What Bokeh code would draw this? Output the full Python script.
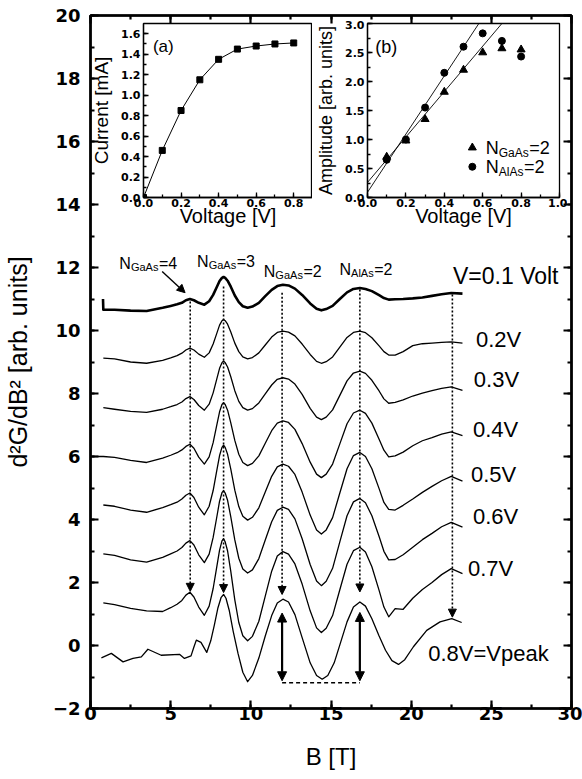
from bokeh.plotting import figure
from bokeh.models import (ColumnDataSource, Arrow, NormalHead, LinearAxis,
                          SingleIntervalTicker, Range1d, PrintfTickFormatter,
                          CustomJSTickFormatter)
from bokeh.layouts import column, row
from bokeh.core.properties import value
from bokeh.embed import file_html
from bokeh.resources import INLINE

FONT = "Liberation Sans"
TICK_FONT = "DejaVu Sans"

# ---------------- main panel data ----------------
B_GRID = [0.8, 1.5, 2.5, 3.5, 4.5, 5.0, 5.4, 5.7, 5.95, 6.2, 6.45, 6.75, 7.1, 7.4, 7.65,
          7.85, 8.05, 8.2, 8.3, 8.4, 8.55, 8.75, 9.0, 9.25, 9.5, 9.8, 10.1, 10.5, 10.9,
          11.3, 11.65, 12.0, 12.35, 12.75, 13.2, 13.7, 14.1, 14.4, 14.7, 15.1, 15.55,
          16.0, 16.4, 16.8, 17.15, 17.55, 18.0, 18.3, 18.6, 19.0, 19.5, 20.1, 20.7, 21.3,
          21.9, 22.5, 23.2]

V01 = [10.66, 10.66, 10.63, 10.62, 10.72, 10.78, 10.83, 10.88, 10.96, 11.0, 10.96, 10.88,
       10.82, 10.93, 11.13, 11.35, 11.57, 11.67, 11.7, 11.67, 11.58, 11.39, 11.11, 10.9,
       10.77, 10.72, 10.76, 10.88, 11.09, 11.29, 11.41, 11.45, 11.43, 11.33, 11.13, 10.86,
       10.69, 10.64, 10.68, 10.78, 11.0, 11.21, 11.32, 11.35, 11.32, 11.25, 11.12, 11.03,
       10.98, 10.99, 11.0, 11.02, 11.05, 11.1, 11.15, 11.19, 11.17]
V02 = [9.12, 9.1, 9.0, 8.96, 9.05, 9.13, 9.2, 9.28, 9.38, 9.44, 9.38, 9.25, 9.15, 9.29,
       9.57, 9.87, 10.17, 10.31, 10.35, 10.31, 10.2, 9.95, 9.6, 9.33, 9.16, 9.1, 9.14,
       9.29, 9.54, 9.79, 9.94, 9.98, 9.95, 9.83, 9.57, 9.24, 9.02, 8.96, 9.01, 9.16, 9.47,
       9.78, 9.94, 9.98, 9.93, 9.77, 9.51, 9.33, 9.22, 9.22, 9.33, 9.52, 9.58, 9.6, 9.62,
       9.64, 9.6]
V03 = [7.55, 7.5, 7.43, 7.4, 7.5, 7.58, 7.65, 7.73, 7.84, 7.9, 7.81, 7.62, 7.47, 7.66,
       8.02, 8.41, 8.8, 8.98, 9.03, 8.98, 8.84, 8.53, 8.09, 7.75, 7.55, 7.47, 7.52, 7.7,
       7.99, 8.27, 8.45, 8.5, 8.46, 8.3, 7.97, 7.53, 7.25, 7.17, 7.25, 7.48, 7.94, 8.4,
       8.65, 8.71, 8.64, 8.42, 8.08, 7.83, 7.69, 7.72, 7.8, 7.92, 8.01, 8.09, 8.16, 8.21,
       8.1]
V04 = [6.0, 5.97, 5.88, 5.81, 5.95, 6.04, 6.12, 6.21, 6.32, 6.39, 6.26, 5.98, 5.76, 5.99,
       6.44, 6.93, 7.42, 7.65, 7.71, 7.65, 7.47, 7.07, 6.51, 6.07, 5.81, 5.71, 5.78, 6.02,
       6.42, 6.82, 7.06, 7.13, 7.08, 6.86, 6.41, 5.82, 5.44, 5.33, 5.44, 5.76, 6.4, 7.04,
       7.38, 7.47, 7.37, 7.06, 6.55, 6.2, 5.99, 6.02, 6.14, 6.34, 6.5, 6.6, 6.71, 6.78,
       6.66]
V05 = [4.46, 4.42, 4.3, 4.23, 4.38, 4.47, 4.55, 4.65, 4.77, 4.84, 4.7, 4.39, 4.15, 4.42,
       4.92, 5.48, 6.03, 6.29, 6.36, 6.29, 6.07, 5.6, 4.93, 4.41, 4.1, 3.98, 4.07, 4.37,
       4.87, 5.37, 5.67, 5.76, 5.69, 5.43, 4.87, 4.14, 3.67, 3.54, 3.67, 4.06, 4.84, 5.61,
       6.03, 6.13, 6.0, 5.61, 4.98, 4.54, 4.32, 4.3, 4.45, 4.65, 4.86, 5.05, 5.23, 5.37,
       5.22]
V06 = [2.91, 2.86, 2.72, 2.65, 2.8, 2.91, 3.0, 3.11, 3.25, 3.33, 3.19, 2.88, 2.63, 2.9,
       3.43, 4.0, 4.58, 4.85, 4.92, 4.84, 4.61, 4.08, 3.35, 2.77, 2.43, 2.3, 2.4, 2.76,
       3.35, 3.93, 4.29, 4.39, 4.32, 4.02, 3.39, 2.57, 2.05, 1.9, 2.04, 2.45, 3.29, 4.12,
       4.56, 4.67, 4.53, 4.12, 3.46, 2.99, 2.72, 2.73, 2.88, 3.12, 3.36, 3.56, 3.77, 3.91,
       3.76]
V07 = [1.35, 1.3, 1.18, 1.1, 1.08, 1.2, 1.31, 1.43, 1.6, 1.69, 1.54, 1.22, 0.96, 1.25,
       1.81, 2.42, 3.03, 3.32, 3.39, 3.29, 3.0, 2.35, 1.45, 0.73, 0.31, 0.15, 0.29, 0.77,
       1.57, 2.36, 2.84, 2.98, 2.9, 2.59, 1.95, 1.1, 0.56, 0.41, 0.55, 0.95, 1.77, 2.58,
       3.01, 3.12, 2.97, 2.5, 1.75, 1.22, 0.91, 1.17, 1.15, 1.5, 1.78, 2.0, 2.25, 2.44,
       2.28]

# leading points where a trace starts differently (B, value)
LEAD_01 = (0.78, 11.0)
LEAD_04 = (0.1, 6.0)

B08 = [0.68, 1.3, 2.03, 2.65, 3.17, 3.58, 4.41, 5.55, 5.86, 6.27, 6.45, 6.6, 6.89, 7.25,
       7.5, 7.72, 7.95, 8.15, 8.3, 8.45, 8.65, 8.9, 9.2, 9.5, 9.8, 10.1, 10.5, 10.9, 11.3,
       11.65, 12.0, 12.35, 12.75, 13.2, 13.7, 14.1, 14.45, 14.8, 15.2, 15.6, 16.0, 16.4,
       16.8, 17.15, 17.55, 18.0, 18.4, 18.8, 19.21, 19.6, 20.14, 20.97, 21.8, 22.53, 23.15]
V08 = [-0.39, -0.25, -0.52, -0.41, -0.36, -0.12, -0.31, -0.28, -0.41, -0.33, -0.05, 0.17,
       0.1, -0.22, 0.15, 0.64, 1.2, 1.53, 1.62, 1.5, 1.12, 0.45, -0.25, -0.85, -1.15,
       -0.95, -0.4, 0.3, 0.95, 1.35, 1.47, 1.38, 0.98, 0.25, -0.55, -0.95, -1.07, -0.95,
       -0.55, 0.1, 0.75, 1.22, 1.38, 1.25, 0.85, 0.3, -0.15, -0.48, -0.6, -0.45, -0.04,
       0.48, 0.75, 0.85, 0.73]

V_LABELS = ["V=0.1 Volt", "0.2V", "0.3V", "0.4V", "0.5V", "0.6V", "0.7V", "0.8V=Vpeak"]
V_LABEL_B = [22.61, 24.04, 23.91, 23.85, 23.73, 23.85, 23.54, 21.06]
V_LABEL_Y = [11.74, 9.72, 8.43, 6.87, 5.44, 4.08, 2.44, -0.25]

N_SUBS = ["GaAs", "GaAs", "GaAs", "AlAs"]
N_VALS = ["=4", "=3", "=2", "=2"]
N_LABEL_B = [1.80, 6.65, 10.81, 15.53]
N_LABEL_Y = [12.12, 12.18, 11.87, 11.93]

ARROW_B = [6.22, 8.3, 11.95, 16.8, 22.57]
ARROW_TOP = [10.92, 11.4, 11.2, 11.3, 11.14]
ARROW_TIP = [1.72, 1.68, 1.62, 1.7, 0.9]

SPAN_B = [11.95, 16.8]
SPAN_TOP = [1.03, 1.05]
SPAN_BOT = [-1.12, -1.12]
BASE_Y = [-1.18, -1.18]

POINTER = dict(x0=[4.47], y0=[11.87], x1=[5.9], y1=[11.2])

# ---------------- inset data ----------------
IV_V = [0.0, 0.1, 0.2, 0.3, 0.4, 0.5, 0.6, 0.7, 0.8]
IV_I = [0.0, 0.46, 0.85, 1.15, 1.35, 1.45, 1.48, 1.50, 1.51]

AMP_V = [0.1, 0.2, 0.3, 0.4, 0.5, 0.6, 0.7, 0.8]
AMP_GAAS = [0.70, 0.98, 1.35, 1.82, 2.20, 2.50, 2.57, 2.55]
AMP_ALAS = [0.65, 1.00, 1.55, 2.15, 2.60, 2.83, 2.70, 2.43]
FIT_ALAS_X = [0.0, 0.58]
FIT_ALAS_Y = [0.09, 3.0]
FIT_GAAS_X = [0.0, 0.70]
FIT_GAAS_Y = [0.26, 3.0]


def style_axis(ax, major_in, minor_in, lw, size, standoff, bold=True):
    ax.major_tick_in = major_in
    ax.major_tick_out = 0
    ax.minor_tick_in = minor_in
    ax.minor_tick_out = 0
    ax.axis_line_width = lw
    ax.major_tick_line_width = lw
    ax.minor_tick_line_width = lw
    ax.axis_line_color = "black"
    ax.major_tick_line_color = "black"
    ax.minor_tick_line_color = "black"
    ax.major_label_text_font = TICK_FONT
    ax.major_label_text_font_size = size
    ax.major_label_text_font_style = "bold" if bold else "normal"
    ax.major_label_text_color = "black"
    ax.major_label_standoff = standoff
    ax.axis_label_text_font = FONT
    ax.axis_label_text_font_style = "normal"
    ax.axis_label_text_color = "black"


# ---------------- main figure ----------------
p = figure(width=582, height=779, x_range=Range1d(0, 30), y_range=Range1d(-2, 20),
           output_backend="svg", toolbar_location=None,
           min_border_left=88, min_border_right=11, min_border_top=15, min_border_bottom=71,
           x_axis_label="B [T]", y_axis_label="d²G/dB² [arb. units]")
p.xgrid.visible = False
p.ygrid.visible = False
p.outline_line_color = "black"
p.outline_line_width = 2.5
p.background_fill_color = "white"
p.border_fill_color = "white"

p.xaxis.ticker = SingleIntervalTicker(interval=5, num_minor_ticks=2)
p.yaxis.ticker = SingleIntervalTicker(interval=2, num_minor_ticks=2)
style_axis(p.xaxis[0], 8, 4, 2.2, "18px", -2)
style_axis(p.yaxis[0], 8, 4, 2.2, "18px", 10)
p.xaxis.axis_label_text_font_size = "24px"
p.xaxis.axis_label_standoff = 20
p.yaxis.axis_label_text_font_size = "25px"
p.yaxis.axis_label_standoff = 18

# mirrored tick marks on top and right (no labels)
for loc, interval in (("above", 5), ("right", 2)):
    ax = LinearAxis(ticker=SingleIntervalTicker(interval=interval, num_minor_ticks=2),
                    formatter=CustomJSTickFormatter(code="return ''"))
    style_axis(ax, 8, 4, 2.2, "1px", 0)
    p.add_layout(ax, loc)

traces = [
    ([LEAD_01[0]] + B_GRID, [LEAD_01[1]] + V01, 2.6),
    (B_GRID, V02, 1.3),
    (B_GRID, V03, 1.3),
    ([LEAD_04[0]] + B_GRID, [LEAD_04[1]] + V04, 1.3),
    (B_GRID, V05, 1.3),
    (B_GRID, V06, 1.3),
    (B_GRID, V07, 1.3),
    (B08, V08, 1.3),
]
for xs, ys, lw in traces:
    p.line(xs, ys, line_color="black", line_width=lw, line_join="round")

# dotted guide arrows
dotted = ColumnDataSource(dict(x0=ARROW_B, y0=ARROW_TOP, x1=ARROW_B, y1=ARROW_TIP))
p.add_layout(Arrow(source=dotted, x_start="x0", y_start="y0", x_end="x1", y_end="y1",
                   line_dash="2 2", line_width=1.6, line_color="black",
                   end=NormalHead(size=8, fill_color="black", line_color="black", line_width=1)))

# amplitude double arrows
span = ColumnDataSource(dict(x0=SPAN_B, y0=SPAN_BOT, x1=SPAN_B, y1=SPAN_TOP))
p.add_layout(Arrow(source=span, x_start="x0", y_start="y0", x_end="x1", y_end="y1",
                   line_width=2.2, line_color="black",
                   start=NormalHead(size=9, fill_color="black", line_color="black", line_width=1),
                   end=NormalHead(size=9, fill_color="black", line_color="black", line_width=1)))
p.line(SPAN_B, BASE_Y, line_color="black", line_width=1.5, line_dash="4 3")

# pointer from N_GaAs=4 label
p.add_layout(Arrow(source=ColumnDataSource(POINTER), x_start="x0", y_start="y0",
                   x_end="x1", y_end="y1", line_width=1.4, line_color="black",
                   end=NormalHead(size=8, fill_color="black", line_color="black", line_width=1)))

# voltage labels
vsrc = ColumnDataSource(dict(x=V_LABEL_B, y=V_LABEL_Y, t=V_LABELS,
                             s=["23px"] + ["22px"] * 7))
p.text(x="x", y="y", text="t", source=vsrc, text_font=value(FONT), text_font_size="s",
       text_baseline="middle", text_align="left", text_color="black")

# N labels with subscripts
BIG, SMALL = 16, 11
sub_w = {"GaAs": 2.501, "AlAs": 2.056}
n_w = 0.722 * BIG
nsrc = ColumnDataSource(dict(x=N_LABEL_B, y=N_LABEL_Y, sub=N_SUBS, val=N_VALS,
                             n=["N"] * len(N_SUBS),
                             off_sub=[n_w] * len(N_SUBS),
                             off_val=[n_w + sub_w[s] * SMALL + 0.5 for s in N_SUBS]))
p.text(x="x", y="y", text="n", source=nsrc, text_font=value(FONT),
       text_font_size=value(f"{BIG}px"), text_baseline="alphabetic", text_color="black")
p.text(x="x", y="y", text="sub", source=nsrc, x_offset="off_sub", y_offset=3,
       text_font=value(FONT), text_font_size=value(f"{SMALL}px"),
       text_baseline="alphabetic", text_color="black")
p.text(x="x", y="y", text="val", source=nsrc, x_offset="off_val", text_font=value(FONT),
       text_font_size=value(f"{BIG}px"), text_baseline="alphabetic", text_color="black")


def inset(width, left_border, right_border, xr, yr, xlabel, ylabel, xint, yint, ylabel_size):
    f = figure(width=width, height=210, x_range=Range1d(*xr), y_range=Range1d(*yr),
               output_backend="svg", toolbar_location=None,
               min_border_left=left_border, min_border_right=right_border,
               min_border_top=3, min_border_bottom=33,
               x_axis_label=xlabel, y_axis_label=ylabel)
    f.background_fill_color = None
    f.border_fill_color = None
    f.outline_line_color = "black"
    f.outline_line_width = 1.3
    f.xgrid.visible = False
    f.ygrid.visible = False
    f.xaxis.ticker = SingleIntervalTicker(interval=xint, num_minor_ticks=2)
    f.yaxis.ticker = SingleIntervalTicker(interval=yint, num_minor_ticks=2)
    f.xaxis.formatter = PrintfTickFormatter(format="%.1f")
    f.yaxis.formatter = PrintfTickFormatter(format="%.1f")
    style_axis(f.xaxis[0], 5, 3, 1.3, "11px", 1)
    style_axis(f.yaxis[0], 5, 3, 1.3, "11px", 3)
    f.xaxis.axis_label_text_font_size = "20px"
    f.xaxis.axis_label_standoff = -5
    f.yaxis.axis_label_text_font_size = ylabel_size
    f.yaxis.axis_label_standoff = 6
    return f


# ---------------- inset (a) ----------------
ia = inset(224, 55, 0, (0, 0.9), (0, 1.7), "Voltage [V]", "Current [mA]", 0.2, 0.2, "19px")
ia.margin = (0, 0, 0, 88)
ia.line(IV_V, IV_I, line_color="black", line_width=1.0)
ia.scatter(IV_V, IV_I, marker="square", size=6, fill_color="black", line_color="black")
ia.text(x=[0.05], y=[1.48], text=["(a)"], text_font=value(FONT),
        text_font_size=value("17px"), text_baseline="middle", text_color="black")

# ---------------- inset (b) ----------------
ib = inset(255, 55, 8, (0, 1.0), (0, 3.0), "Voltage [V]", "Amplitude [arb. units]",
           0.2, 0.5, "18px")
ib.line(FIT_ALAS_X, FIT_ALAS_Y, line_color="black", line_width=0.9)
ib.line(FIT_GAAS_X, FIT_GAAS_Y, line_color="black", line_width=0.9)
ib.scatter(AMP_V, AMP_GAAS, marker="triangle", size=8, fill_color="black", line_color="black")
ib.scatter(AMP_V, AMP_ALAS, marker="circle", size=7, fill_color="black", line_color="black")
ib.text(x=[0.04], y=[2.6], text=["(b)"], text_font=value(FONT),
        text_font_size=value("18px"), text_baseline="middle", text_color="black")

# legend of inset (b)
LEG_Y = [0.86, 0.53]
ib.scatter([0.546], [LEG_Y[0]], marker="triangle", size=8, fill_color="black", line_color="black")
ib.scatter([0.546], [LEG_Y[1]], marker="circle", size=7, fill_color="black", line_color="black")
LBIG, LSMALL = 18, 12
ln_w = 0.722 * LBIG
lsrc = ColumnDataSource(dict(x=[0.616, 0.616], y=LEG_Y, n=["N", "N"], sub=["GaAs", "AlAs"],
                             val=["=2", "=2"], off_sub=[ln_w, ln_w],
                             off_val=[ln_w + sub_w[s] * LSMALL + 0.5 for s in ["GaAs", "AlAs"]]))
ib.text(x="x", y="y", text="n", source=lsrc, text_font=value(FONT),
        text_font_size=value(f"{LBIG}px"), text_baseline="middle", text_color="black")
ib.text(x="x", y="y", text="sub", source=lsrc, x_offset="off_sub", y_offset=5,
        text_font=value(FONT), text_font_size=value(f"{LSMALL}px"),
        text_baseline="middle", text_color="black")
ib.text(x="x", y="y", text="val", source=lsrc, x_offset="off_val", text_font=value(FONT),
        text_font_size=value(f"{LBIG}px"), text_baseline="middle", text_color="black")

layout = column(p, row(ia, ib, margin=(-759, 0, 0, 0)))

open("out.html", "w").write(file_html(layout, INLINE))
